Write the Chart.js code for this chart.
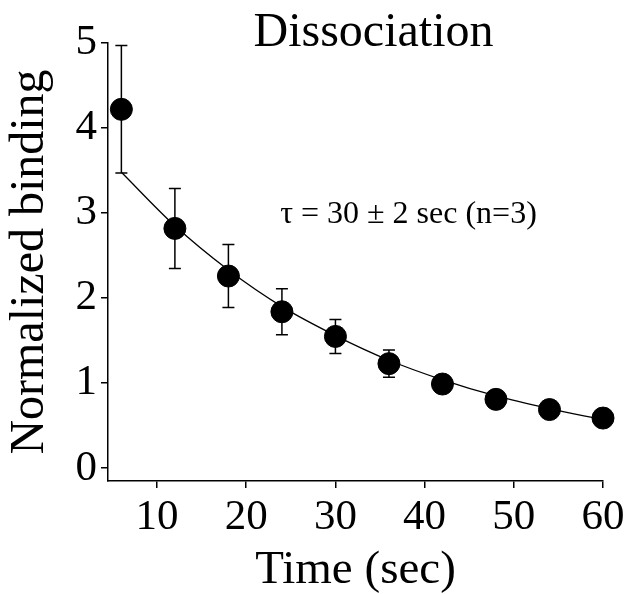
<!DOCTYPE html>
<html>
<head>
<meta charset="utf-8">
<script src="https://cdn.jsdelivr.net/npm/chart.js@4"></script>
<style>
  html, body { margin: 0; padding: 0; background: #fff; }
  #wrap { width: 629px; height: 594px; }
</style>
</head>
<body>
<div id="wrap"><canvas id="chart" width="629" height="594"></canvas></div>
<script>
const times = [6, 12, 18, 24, 30, 36, 42, 48, 54, 60];
const binding = [4.22, 2.82, 2.26, 1.84, 1.55, 1.23, 0.99, 0.81, 0.69, 0.59];
const bindingErr = [0.75, 0.47, 0.37, 0.27, 0.2, 0.16, 0.1, 0, 0, 0];

// fitted single exponential
const fitTimes = [6, 12, 18, 24, 30, 36, 42, 48, 54, 60];
const fitValues = [3.48, 2.85, 2.33, 1.9, 1.56, 1.27, 1.04, 0.85, 0.7, 0.57];

const xTicks = [10, 20, 30, 40, 50, 60];
const yTicks = [0, 1, 2, 3, 4, 5];

const titleText = 'Dissociation';
const noteText = 'τ = 30 ± 2 sec (n=3)';

const serif = "'Liberation Serif', 'Times New Roman', serif";
Chart.defaults.font.family = serif;
Chart.defaults.color = '#000';

const errorBars = {
  id: 'errorBars',
  afterDatasetsDraw(chart) {
    const { ctx, scales: { x, y } } = chart;
    const cap = 6;
    ctx.save();
    ctx.strokeStyle = '#000';
    ctx.lineWidth = 1.5;
    times.forEach((t, i) => {
      const e = bindingErr[i];
      if (!e) return;
      const px = x.getPixelForValue(t);
      const top = y.getPixelForValue(binding[i] + e);
      const bot = y.getPixelForValue(binding[i] - e);
      ctx.beginPath();
      ctx.moveTo(px, top);
      ctx.lineTo(px, bot);
      ctx.moveTo(px - cap, top);
      ctx.lineTo(px + cap, top);
      ctx.moveTo(px - cap, bot);
      ctx.lineTo(px + cap, bot);
      ctx.stroke();
    });
    ctx.restore();
  }
};

const labels = {
  id: 'labels',
  afterDraw(chart) {
    const { ctx, chartArea, scales: { x, y } } = chart;
    ctx.save();
    ctx.fillStyle = '#000';
    ctx.textBaseline = 'alphabetic';

    ctx.font = '48px ' + serif;
    ctx.textAlign = 'center';
    ctx.fillText(titleText, (chartArea.left + chartArea.right) / 2 + 18, chartArea.top + 3);

    ctx.font = '32px ' + serif;
    ctx.textAlign = 'left';
    ctx.fillText(noteText, x.getPixelForValue(23.8), y.getPixelForValue(2.88));
    ctx.restore();
  }
};

new Chart(document.getElementById('chart'), {
  type: 'scatter',
  data: {
    datasets: [
      {
        type: 'line',
        data: fitTimes.map((t, i) => ({ x: t, y: fitValues[i] })),
        borderColor: '#000',
        borderWidth: 1.3,
        pointRadius: 0,
        fill: false,
        cubicInterpolationMode: 'monotone',
        order: 2
      },
      {
        data: times.map((t, i) => ({ x: t, y: binding[i] })),
        backgroundColor: '#000',
        borderColor: '#000',
        pointRadius: 11,
        pointHoverRadius: 11,
        order: 1
      }
    ]
  },
  options: {
    responsive: false,
    animation: false,
    clip: false,
    layout: { padding: { left: 0, right: 26, top: 43, bottom: 0 } },
    plugins: {
      legend: { display: false },
      tooltip: { enabled: false }
    },
    scales: {
      x: {
        type: 'linear',
        min: 4.5,
        max: 60,
        afterBuildTicks: (s) => { s.ticks = xTicks.map(v => ({ value: v })); },
        afterFit: (s) => { s.height = 113; },
        border: { display: true, color: '#000', width: 1.5 },
        grid: { drawOnChartArea: false, drawTicks: true, tickLength: 7, color: '#000', lineWidth: 1.5 },
        ticks: { padding: 4, maxRotation: 0, font: { size: 43 }, color: '#000' },
        title: {
          display: true,
          text: 'Time (sec)',
          font: { size: 47, lineHeight: 1 },
          padding: { top: 0, bottom: 0 },
          color: '#000'
        }
      },
      y: {
        type: 'linear',
        min: -0.15,
        max: 5,
        afterBuildTicks: (s) => { s.ticks = yTicks.map(v => ({ value: v })); },
        afterFit: (s) => { s.width = 108; },
        border: { display: true, color: '#000', width: 1.5 },
        grid: { drawOnChartArea: false, drawTicks: true, tickLength: 7, color: '#000', lineWidth: 1.5 },
        ticks: { padding: 4, font: { size: 43 }, color: '#000' },
        title: {
          display: true,
          text: 'Normalized binding',
          font: { size: 48 },
          padding: { top: 2, bottom: 0 },
          color: '#000'
        }
      }
    }
  },
  plugins: [errorBars, labels]
});
</script>
</body>
</html>
